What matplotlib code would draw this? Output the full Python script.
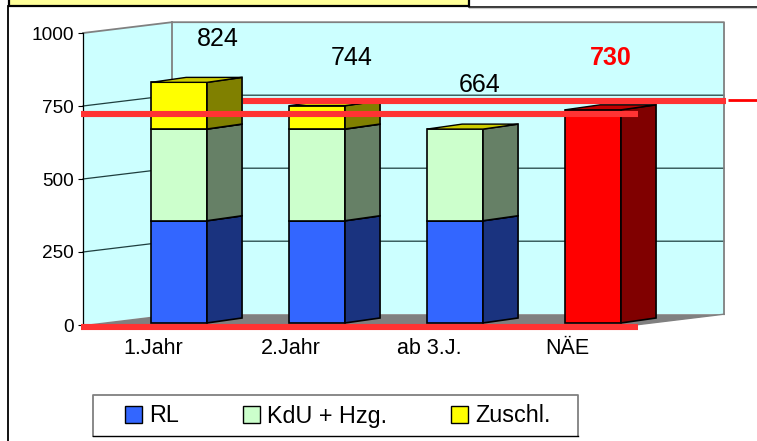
import matplotlib
matplotlib.use('Agg')
import matplotlib.pyplot as plt
import numpy as np
from matplotlib.patches import Polygon, Patch, Rectangle

plt.rcParams['font.family'] = ['Liberation Sans', 'DejaVu Sans']

# Daten
categories = ['1.Jahr', '2.Jahr', 'ab 3.J.', 'NÄE']
rl = [350, 350, 350, 0]
kdu = [314, 314, 314, 0]
zuschl = [160, 80, 0, 0]
nae = [0, 0, 0, 730]
totals = ['824', '744', '664', '730']
yticks = [0, 250, 500, 750, 1000]
red_lines = [0, 722, 767]

W, H = 757, 441
fig = plt.figure(figsize=(W / 100, H / 100), dpi=100, facecolor='white')

# Rahmen in Pixeln
bg = fig.add_axes([0, 0, 1, 1])
bg.set_xlim(0, W)
bg.set_ylim(H, 0)
bg.axis('off')
bg.plot([8, 8], [6, H], color='black', lw=1.3)
bg.plot([469, W], [7, 7], color='black', lw=1.1)
bg.plot([469, W], [8.3, 8.3], color='#c8c8c8', lw=0.8)
bg.add_patch(Rectangle((9, -4), 460, 10, fc='#FFFF99', ec='black', lw=1.6))
# Legendenrahmen
bg.plot([93, 93, 578, 578], [436, 395, 395, 436], color='#808080', lw=1.3)
bg.plot([93, 578], [436, 436], color='black', lw=1.0)

# Hauptachse: Vorderkante des 3D-Diagramms
ax = fig.add_axes([83 / W, (H - 325) / H, 552 / W, 292 / H])
ax.set_xlim(-0.696, 3.304)
ax.set_ylim(0, 1000)
ax.patch.set_alpha(0)
for s in ['top', 'right', 'bottom']:
    ax.spines[s].set_visible(False)
ax.spines['left'].set_linewidth(0.9)
ax.spines['left'].set_zorder(3)

x0, x1 = ax.get_xlim()
wall_dx, wall_dy = 0.645, 37
bar_w, bar_dx, bar_dy = 0.405, 0.254, 17
base = 7


def poly(pts, fc, ec='none', lw=0, z=1):
    ax.add_patch(Polygon(pts, closed=True, fc=fc, ec=ec, lw=lw, zorder=z, clip_on=False,
                         joinstyle='miter'))


# Wände und Boden
poly([(x0, 0), (x0 + wall_dx, wall_dy), (x0 + wall_dx, 1000 + wall_dy), (x0, 1000)], '#CCFFFF')
poly([(x0 + wall_dx, wall_dy), (x1 + wall_dx, wall_dy), (x1 + wall_dx, 1000 + wall_dy),
      (x0 + wall_dx, 1000 + wall_dy)], '#CCFFFF')
poly([(x0, 0), (x1, 0), (x1 + wall_dx, wall_dy), (x0 + wall_dx, wall_dy)], '#808080')

for v in yticks[1:-1]:
    ax.plot([x0, x0 + wall_dx, x1 + wall_dx], [v, v + wall_dy, v + wall_dy], color='#1f3f3f',
            lw=0.9, zorder=1.5, clip_on=False)
ax.plot([x0, x0 + wall_dx, x1 + wall_dx, x1 + wall_dx],
        [1000, 1000 + wall_dy, 1000 + wall_dy, wall_dy], color='#808080', lw=1.3, zorder=1.5,
        clip_on=False)
ax.plot([x0 + wall_dx, x0 + wall_dx], [wall_dy, 1000 + wall_dy], color='#808080', lw=1.3,
        zorder=1.5, clip_on=False)
ax.plot([x1, x1 + wall_dx], [0, wall_dy], color='#808080', lw=1, zorder=1.5, clip_on=False)


# Balken
def box(x, lo, hi, front, side, top, z):
    l, r = x - bar_w / 2, x + bar_w / 2
    poly([(l, lo), (r, lo), (r, hi), (l, hi)], front, 'black', 1.2, z)
    poly([(r, lo), (r + bar_dx, lo + bar_dy), (r + bar_dx, hi + bar_dy), (r, hi)], side, 'black', 1.2, z)
    poly([(l, hi), (r, hi), (r + bar_dx, hi + bar_dy), (l + bar_dx, hi + bar_dy)], top, 'black', 1.0, z + 0.1)


series = [
    (rl, '#3366FF', '#1A337F', '#264CBF'),
    (kdu, '#CCFFCC', '#668066', '#CCCC00'),
    (zuschl, '#FFFF00', '#808000', '#CCCC00'),
    (nae, '#FF0000', '#800000', '#BF0000'),
]
xs = np.arange(len(categories))
for i, x in enumerate(xs):
    bottom = base
    for k, (vals, c_front, c_side, c_top) in enumerate(series):
        if vals[i] == 0:
            continue
        box(x, bottom, bottom + vals[i], c_front, c_side, c_top, 2 + i + k * 0.2)
        bottom += vals[i]

# Summen über den Balken
label_y = [979, 914, 822, 914]
label_x = xs + np.array([0.28, 0.25, 0.18, 0.13])
for i, x in enumerate(label_x):
    is_red = categories[i] == 'NÄE'
    ax.text(x, label_y[i], totals[i], ha='center', va='center', fontsize=18,
            fontweight='bold' if is_red else 'normal', color='#FF0000' if is_red else 'black',
            zorder=9, clip_on=False)

# rote Linien
red = '#FF3333'
ax.plot([x0 - 0.015, x1 + 0.02], [red_lines[0] - 6, red_lines[0] - 6], color=red, lw=4.4,
        solid_capstyle='butt', zorder=8, clip_on=False)
ax.plot([x0 - 0.015, x1 + 0.02], [red_lines[1], red_lines[1]], color=red, lw=4.4,
        solid_capstyle='butt', zorder=8, clip_on=False)
ax.plot([0.463, x1 + wall_dx + 0.015], [red_lines[2], red_lines[2]], color=red,
        lw=4.4, solid_capstyle='butt', zorder=8, clip_on=False)
ax.plot([x1 + wall_dx + 0.03, x1 + wall_dx + 0.25], [red_lines[2] + 3, red_lines[2] + 3], color='#FF0000',
        lw=2, solid_capstyle='butt', zorder=8, clip_on=False)

# Achsen
ax.set_yticks(yticks)
ax.tick_params(axis='y', length=3.6, width=0.8, pad=2.8, labelsize=13.7)
ax.set_xticks(xs - 0.19)
ax.set_xticklabels(categories)
ax.tick_params(axis='x', length=0, pad=9, labelsize=15.5)

# Legende
handles = [Patch(fc='#3366FF', ec='black', label='RL'),
           Patch(fc='#CCFFCC', ec='black', label='KdU + Hzg.'),
           Patch(fc='#FFFF00', ec='black', label='Zuschl.')]
leg = fig.legend(handles=handles, ncol=3, loc='center', bbox_to_anchor=(338 / W, (H - 416) / H),
                 fontsize=16.8, frameon=False, handlelength=0.73, handleheight=0.73,
                 handletextpad=0.3, columnspacing=2.75, borderpad=0, borderaxespad=0)
leg.set_zorder(10)

fig.savefig('out.png', dpi=100)
